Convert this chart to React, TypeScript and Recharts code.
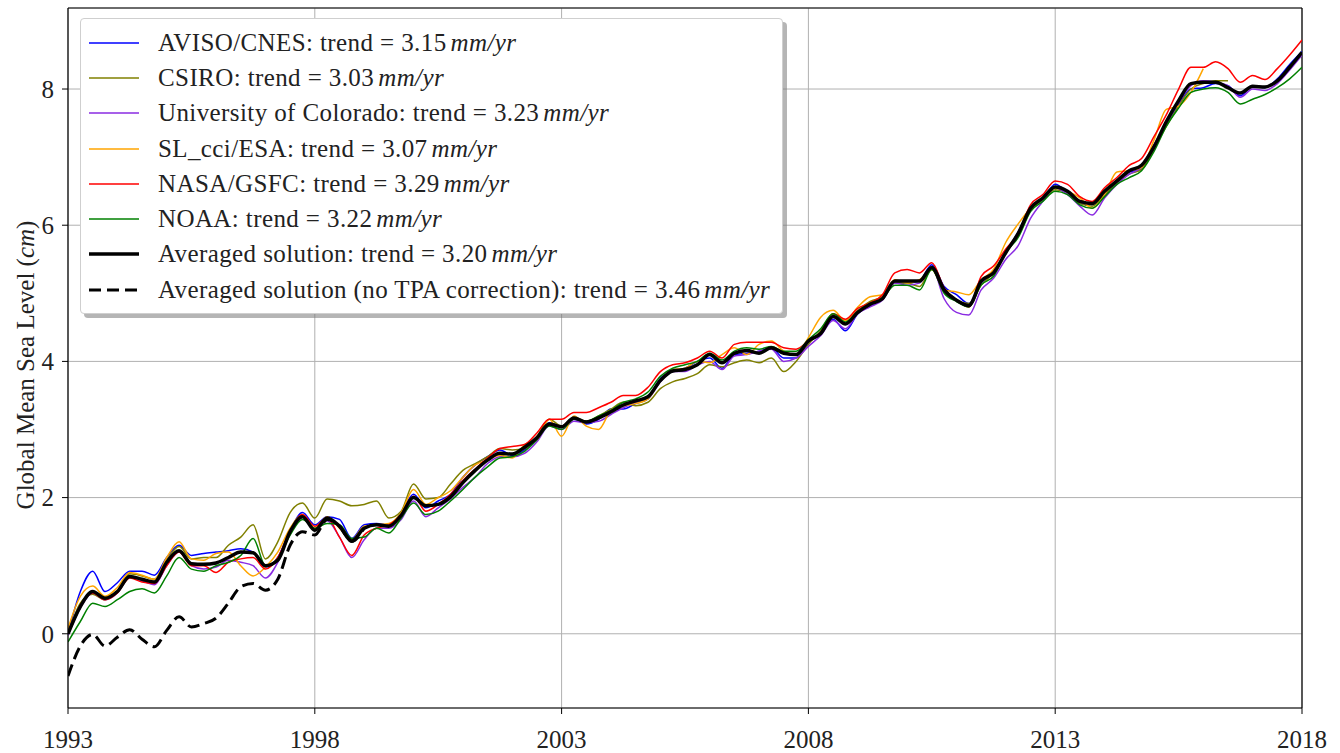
import React from 'react';
import { LineChart, Line, XAxis, YAxis, CartesianGrid, Legend, ReferenceLine } from 'recharts';

const FONT = "'Liberation Serif', 'DejaVu Serif', serif";

// quarterly time grid 1993.0 .. 2018.0
const years: number[] = Array.from({ length: 101 }, (_, i) => 1993 + i * 0.25);
const xTicks = [1993, 1998, 2003, 2008, 2013, 2018];
const yTicks = [0, 2, 4, 6, 8];

const aviso = [
  0.00, 0.62, 0.92, 0.62, 0.75, 0.92, 0.92, 0.86, 1.12, 1.30, 1.15, 1.18,
  1.20, 1.22, 1.25, 1.20, 0.98, 1.12, 1.52, 1.78, 1.60, 1.72, 1.68, 1.40,
  1.60, 1.62, 1.60, 1.78, 2.05, 1.85, 1.95, 2.05, 2.30, 2.48, 2.60, 2.70,
  2.62, 2.70, 2.85, 3.10, 3.05, 3.15, 3.08, 3.15, 3.30, 3.30, 3.38, 3.45,
  3.75, 3.85, 3.90, 4.00, 4.05, 3.90, 4.10, 4.12, 4.15, 4.20, 4.05, 4.05,
  4.28, 4.40, 4.62, 4.45, 4.70, 4.82, 4.92, 5.15, 5.15, 5.18, 5.42, 5.10,
  4.98, 4.85, 5.15, 5.30, 5.60, 5.90, 6.25, 6.38, 6.60, 6.48, 6.32, 6.30,
  6.45, 6.62, 6.78, 6.82, 7.15, 7.48, 7.78, 8.00, 8.02, 8.08, 8.05, 7.90,
  8.05, 8.02, 8.15, 8.36, 8.55,
];
const csiro = [
  0.00, 0.45, 0.58, 0.50, 0.62, 0.88, 0.85, 0.80, 1.08, 1.28, 1.10, 1.12,
  1.12, 1.30, 1.42, 1.60, 1.10, 1.35, 1.78, 1.92, 1.70, 1.98, 1.95, 1.88,
  1.90, 1.95, 1.70, 1.80, 2.20, 1.98, 2.00, 2.20, 2.40, 2.50, 2.60, 2.72,
  2.70, 2.72, 2.90, 3.15, 3.05, 3.18, 3.12, 3.20, 3.30, 3.40, 3.35, 3.40,
  3.60, 3.70, 3.75, 3.82, 3.95, 3.92, 3.98, 4.02, 3.98, 4.05, 3.85, 4.00,
  4.25, 4.45, 4.70, 4.60, 4.75, 4.88, 4.95, 5.15, 5.15, 5.10, 5.35, 5.05,
  4.90, 4.85, 5.12, 5.30, 5.60, 5.85, 6.22, 6.38, 6.52, 6.48, 6.32, 6.28,
  6.45, 6.62, 6.75, 6.82, 7.12, 7.45, 7.75, 8.00, 8.08, 8.12, 8.12,
];
const colorado = [
  -0.02, 0.38, 0.60, 0.50, 0.60, 0.84, 0.78, 0.72, 1.00, 1.20, 1.00, 0.95,
  0.98, 1.08, 1.05, 1.00, 0.82, 1.05, 1.50, 1.72, 1.52, 1.66, 1.42, 1.12,
  1.38, 1.55, 1.55, 1.68, 1.95, 1.72, 1.85, 1.98, 2.15, 2.30, 2.50, 2.60,
  2.60, 2.65, 2.82, 3.05, 3.00, 3.12, 3.10, 3.12, 3.22, 3.32, 3.40, 3.45,
  3.70, 3.85, 3.85, 3.95, 4.00, 3.88, 4.08, 4.10, 4.15, 4.18, 4.00, 4.05,
  4.22, 4.38, 4.60, 4.48, 4.70, 4.80, 4.90, 5.15, 5.12, 5.15, 5.38, 4.92,
  4.72, 4.68, 5.05, 5.22, 5.50, 5.70, 6.10, 6.35, 6.55, 6.45, 6.28, 6.15,
  6.40, 6.60, 6.75, 6.85, 7.18, 7.50, 7.80, 8.05, 8.12, 8.10, 8.05, 7.88,
  8.00, 7.98, 8.08, 8.28, 8.50,
];
const slcci = [
  0.08, 0.55, 0.70, 0.55, 0.68, 0.90, 0.86, 0.80, 1.12, 1.35, 1.10, 1.08,
  1.18, 1.20, 1.00, 0.85, 0.98, 1.20, 1.55, 1.75, 1.55, 1.72, 1.55, 1.38,
  1.58, 1.60, 1.62, 1.78, 2.12, 1.90, 2.00, 2.10, 2.30, 2.48, 2.55, 2.62,
  2.58, 2.78, 2.85, 3.15, 2.90, 3.20, 3.05, 3.00, 3.28, 3.35, 3.38, 3.45,
  3.72, 3.88, 3.90, 4.00, 3.98, 4.10, 4.20, 4.10, 4.25, 4.30, 4.15, 4.10,
  4.35, 4.65, 4.75, 4.60, 4.80, 4.95, 4.98, 5.20, 5.15, 5.20, 5.35, 5.05,
  5.02, 4.98, 5.20, 5.35, 5.75, 6.02, 6.25, 6.40, 6.55, 6.50, 6.40, 6.25,
  6.45, 6.78, 6.80, 6.85, 7.25, 7.70, 7.75, 7.95, 8.30,
];
const nasa = [
  0.00, 0.42, 0.60, 0.50, 0.60, 0.82, 0.76, 0.74, 1.00, 1.20, 1.00, 1.00,
  0.90, 1.05, 1.10, 1.12, 0.95, 1.12, 1.50, 1.75, 1.58, 1.70, 1.42, 1.15,
  1.45, 1.55, 1.60, 1.75, 2.02, 1.80, 1.90, 2.05, 2.25, 2.42, 2.58, 2.72,
  2.75, 2.78, 2.95, 3.15, 3.15, 3.25, 3.25, 3.32, 3.40, 3.50, 3.50, 3.62,
  3.85, 3.95, 3.98, 4.05, 4.15, 4.05, 4.25, 4.28, 4.28, 4.28, 4.20, 4.18,
  4.30, 4.42, 4.70, 4.62, 4.78, 4.86, 4.98, 5.30, 5.35, 5.30, 5.45, 5.08,
  4.90, 4.80, 5.25, 5.40, 5.65, 5.88, 6.30, 6.45, 6.65, 6.60, 6.42, 6.35,
  6.55, 6.70, 6.88, 6.98, 7.30, 7.62, 8.00, 8.32, 8.32, 8.40, 8.30, 8.10,
  8.20, 8.14, 8.30, 8.50, 8.72,
];
const noaa = [
  -0.12, 0.18, 0.45, 0.40, 0.50, 0.62, 0.66, 0.60, 0.85, 1.12, 0.95, 0.92,
  1.00, 1.05, 1.15, 1.40, 1.00, 1.10, 1.45, 1.68, 1.55, 1.62, 1.60, 1.40,
  1.42, 1.55, 1.48, 1.70, 1.92, 1.75, 1.80, 1.95, 2.12, 2.30, 2.45, 2.58,
  2.60, 2.68, 2.85, 3.05, 3.00, 3.15, 3.12, 3.20, 3.28, 3.40, 3.45, 3.55,
  3.78, 3.90, 3.95, 4.00, 4.12, 4.02, 4.15, 4.20, 4.18, 4.22, 4.15, 4.15,
  4.32, 4.48, 4.70, 4.58, 4.72, 4.85, 4.92, 5.12, 5.12, 5.05, 5.35, 5.00,
  4.88, 4.80, 5.12, 5.25, 5.60, 5.82, 6.20, 6.35, 6.50, 6.45, 6.30, 6.25,
  6.42, 6.60, 6.70, 6.80, 7.08, 7.45, 7.72, 7.95, 8.00, 8.02, 7.95, 7.78,
  7.85, 7.92, 8.02, 8.15, 8.32,
];
const averaged = [
  0.00, 0.40, 0.62, 0.52, 0.62, 0.84, 0.80, 0.76, 1.05, 1.22, 1.03, 1.02,
  1.04, 1.12, 1.20, 1.19, 1.00, 1.08, 1.50, 1.72, 1.52, 1.70, 1.58, 1.36,
  1.55, 1.60, 1.58, 1.74, 2.00, 1.88, 1.90, 2.01, 2.22, 2.40, 2.55, 2.65,
  2.64, 2.74, 2.88, 3.08, 3.04, 3.17, 3.11, 3.17, 3.26, 3.36, 3.42, 3.48,
  3.72, 3.86, 3.88, 3.95, 4.10, 3.98, 4.12, 4.16, 4.12, 4.20, 4.12, 4.10,
  4.30, 4.41, 4.66, 4.55, 4.72, 4.84, 4.92, 5.18, 5.18, 5.18, 5.38, 5.05,
  4.90, 4.82, 5.18, 5.30, 5.60, 5.88, 6.25, 6.40, 6.56, 6.50, 6.35, 6.32,
  6.50, 6.65, 6.80, 6.88, 7.15, 7.52, 7.83, 8.08, 8.10, 8.10, 8.02, 7.94,
  8.04, 8.03, 8.12, 8.32, 8.54,
];
const noTpa = [
  -0.62, -0.18, -0.01, -0.18, -0.05, 0.06, -0.08, -0.19, 0.05, 0.25, 0.10, 0.15,
  0.23, 0.45, 0.69, 0.74, 0.64, 0.80, 1.30, 1.50, 1.45, 1.68, 1.58, 1.36,
  1.55,
];

const legendItems = [
  { key: 'aviso', name: 'AVISO/CNES', trend: '3.15', color: '#0000ff', width: 1.5, dash: undefined as string | undefined },
  { key: 'csiro', name: 'CSIRO', trend: '3.03', color: '#808000', width: 1.5, dash: undefined },
  { key: 'colorado', name: 'University of Colorado', trend: '3.23', color: '#8a2be2', width: 1.5, dash: undefined },
  { key: 'slcci', name: 'SL_cci/ESA', trend: '3.07', color: '#ffa500', width: 1.5, dash: undefined },
  { key: 'nasa', name: 'NASA/GSFC', trend: '3.29', color: '#ff0000', width: 1.5, dash: undefined },
  { key: 'noaa', name: 'NOAA', trend: '3.22', color: '#008000', width: 1.5, dash: undefined },
  { key: 'averaged', name: 'Averaged solution', trend: '3.20', color: '#000000', width: 3.5, dash: undefined },
  { key: 'noTpa', name: 'Averaged solution (no TPA correction)', trend: '3.46', color: '#000000', width: 3, dash: '12 6' },
];

const seriesMap: Record<string, (number | null)[]> = { aviso, csiro, colorado, slcci, nasa, noaa, averaged, noTpa };

const data = years.map((x, i) => {
  const row: Record<string, number | null> = { x };
  Object.keys(seriesMap).forEach((k) => {
    const v = seriesMap[k][i];
    row[k] = v === undefined ? null : v;
  });
  return row;
});

const Y_MIN = -1.09;
const Y_MAX = 9.19;

const renderLegend = () => (
  <div
    style={{
      background: '#fff',
      border: '1px solid #cfcfcf',
      borderRadius: 4,
      boxShadow: '4px 4px 0 rgba(120,120,120,0.55)',
      padding: '6px 12px 6px 8px',
      fontFamily: FONT,
      fontSize: 25,
      letterSpacing: 0.4,
      color: '#222',
    }}
  >
    {legendItems.map((it) => (
      <div key={it.key} style={{ display: 'flex', alignItems: 'center', height: 35.3, whiteSpace: 'nowrap' }}>
        <svg width={50} height={10} style={{ marginRight: 19 }}>
          <line x1={0} y1={5} x2={50} y2={5} stroke={it.color} strokeWidth={it.width} strokeDasharray={it.dash} />
        </svg>
        <span>
          {it.name}: trend = {it.trend}
          <span style={{ fontStyle: 'italic', marginLeft: 4 }}>mm/yr</span>
        </span>
      </div>
    ))}
  </div>
);

const yLabel = () => (
  <text
    x={25}
    y={365}
    transform="rotate(-90 25 365)"
    textAnchor="middle"
    dominantBaseline="central"
    fontFamily={FONT}
    fontSize={25}
    fill="#222"
  >
    Global Mean Sea Level (<tspan fontStyle="italic">cm</tspan>)
  </text>
);

export default function App() {
  const tickStyle = { fill: '#222', fontSize: 25, fontFamily: FONT };
  return (
    <div style={{ position: 'absolute', left: 0, top: 0, width: 1340, height: 753, background: '#fff' }}>
      <LineChart width={1340} height={753} data={data} margin={{ top: 8, right: 38, bottom: 0, left: 0 }}>
        <CartesianGrid stroke="#b0b0b0" strokeWidth={1} />
        <XAxis
          dataKey="x"
          type="number"
          domain={[1993, 2018]}
          ticks={xTicks}
          allowDataOverflow
          height={45}
          tick={tickStyle}
          tickSize={6}
          tickMargin={16}
          axisLine={{ stroke: '#000', strokeWidth: 1.2 }}
          tickLine={{ stroke: '#000' }}
        />
        <YAxis
          type="number"
          domain={[Y_MIN, Y_MAX]}
          ticks={yTicks}
          allowDataOverflow
          width={68}
          tick={tickStyle}
          tickSize={6}
          tickMargin={8}
          axisLine={{ stroke: '#000', strokeWidth: 1.2 }}
          tickLine={{ stroke: '#000' }}
          label={{ content: yLabel }}
        />
        <ReferenceLine y={Y_MAX} stroke="#000" strokeWidth={1.2} />
        <ReferenceLine x={2018} stroke="#000" strokeWidth={1.2} />
        {legendItems.slice(0, 6).map((it) => (
          <Line
            key={it.key}
            dataKey={it.key}
            type="monotone"
            stroke={it.color}
            strokeWidth={it.width}
            dot={false}
            activeDot={false}
            isAnimationActive={false}
            connectNulls={false}
          />
        ))}
        <Line dataKey="noTpa" type="monotone" stroke="#000" strokeWidth={3} strokeDasharray="12 6" dot={false} activeDot={false} isAnimationActive={false} />
        <Line dataKey="averaged" type="monotone" stroke="#000" strokeWidth={3.5} dot={false} activeDot={false} isAnimationActive={false} />
        <Legend
          layout="vertical"
          align="center"
          verticalAlign="middle"
          content={renderLegend}
          wrapperStyle={{ left: 80, top: 18, width: 'auto' }}
        />
      </LineChart>
    </div>
  );
}
